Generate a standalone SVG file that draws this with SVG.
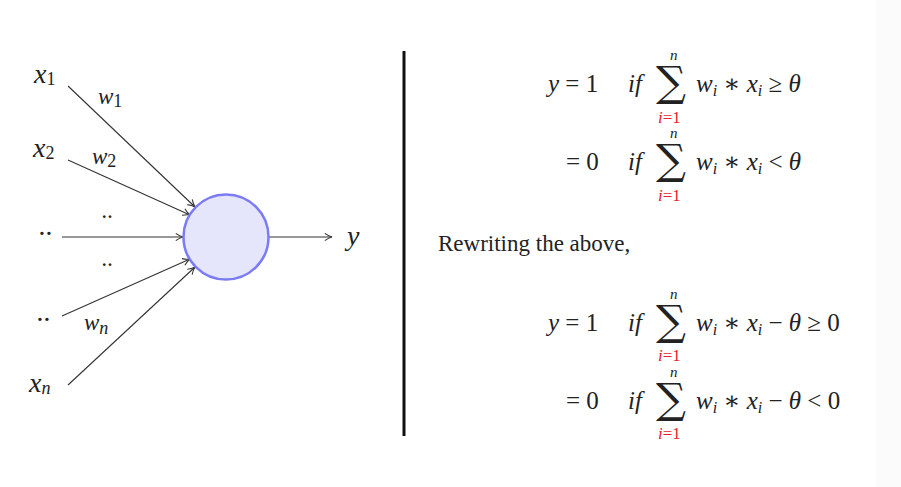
<svg xmlns="http://www.w3.org/2000/svg" width="901" height="487" viewBox="0 0 901 487">
<defs>
<style>
text{font-family:"Liberation Serif","DejaVu Serif",serif;fill:#222}
.v{font-style:italic;font-size:28px}
.w{font-style:italic;font-size:23px}
.s{font-size:18px}
.eq{font-size:25px}
.i{font-style:italic}
.sig{font-size:42px;font-family:"DejaVu Serif",serif}
.lim{font-size:15px}
.red{fill:#e8202a;font-size:17px}
.c line{stroke:#333;stroke-width:1.1;marker-end:url(#a)}
</style>
<marker id="a" viewBox="0 0 10 10" refX="9" refY="5" markerWidth="9" markerHeight="9" markerUnits="userSpaceOnUse" orient="auto"><path d="M1,1 Q5,4 9,5 Q5,6 1,9" fill="none" stroke="#333" stroke-width="1.2"/></marker>
</defs>
<rect width="901" height="487" fill="#fff"/>
<rect x="876" y="0" width="25" height="487" fill="#fbfbfb"/>
<g class="c" id="connectors">
<line x1="68" y1="86" x2="195" y2="207"/>
<line x1="68" y1="160" x2="190" y2="215"/>
<line x1="62" y1="237" x2="183" y2="237"/>
<line x1="62" y1="316" x2="190" y2="259"/>
<line x1="68" y1="385" x2="195" y2="267"/>
<line x1="268" y1="237" x2="332" y2="237"/>
</g>
<g id="neuron"><circle cx="226" cy="237" r="42.5" fill="#e5e5fb" stroke="#7b7bf5" stroke-width="2.5"/></g>
<g id="inputs">
<text class="v" x="34" y="83">x<tspan class="s" font-style="normal" dy="2">1</tspan></text>
<text class="v" x="33" y="157">x<tspan class="s" font-style="normal" dy="2">2</tspan></text>
<text class="v" x="38" y="243">··</text>
<text class="v" x="36" y="329">··</text>
<text class="v" x="29" y="392">x<tspan class="s" dy="2">n</tspan></text>
<text class="w" x="98" y="104">w<tspan class="s" font-style="normal" dy="3">1</tspan></text>
<text class="w" x="92" y="164">w<tspan class="s" font-style="normal" dy="3">2</tspan></text>
<text class="w" x="101" y="224">··</text>
<text class="w" x="101" y="272">··</text>
<text class="w" x="84" y="330">w<tspan class="s" dy="4">n</tspan></text>
<text class="v" x="347" y="245">y</text>
</g>
<g id="divider"><line x1="404" y1="51" x2="404" y2="436" stroke="#111" stroke-width="3"/></g>
<g id="equations" class="eq">
<text x="548" y="92"><tspan class="i">y</tspan> = 1</text>
<text x="628" y="92" class="i">if</text>
<text x="656" y="96" class="sig">∑</text>
<text x="670" y="60" class="lim i">n</text>
<text x="658" y="123" class="red"><tspan class="i">i</tspan>=1</text>
<text x="696" y="92"><tspan class="i">w<tspan font-size="16" dy="4">i</tspan></tspan><tspan dy="-4"> ∗ </tspan><tspan class="i">x<tspan font-size="16" dy="4">i</tspan></tspan><tspan dy="-4"> ≥ </tspan><tspan class="i">θ</tspan></text>

<text x="566" y="170">= 0</text>
<text x="628" y="170" class="i">if</text>
<text x="656" y="174" class="sig">∑</text>
<text x="670" y="138" class="lim i">n</text>
<text x="658" y="201" class="red"><tspan class="i">i</tspan>=1</text>
<text x="696" y="170"><tspan class="i">w<tspan font-size="16" dy="4">i</tspan></tspan><tspan dy="-4"> ∗ </tspan><tspan class="i">x<tspan font-size="16" dy="4">i</tspan></tspan><tspan dy="-4"> &lt; </tspan><tspan class="i">θ</tspan></text>

<text x="438" y="251" font-size="23">Rewriting the above,</text>

<text x="548" y="331"><tspan class="i">y</tspan> = 1</text>
<text x="628" y="331" class="i">if</text>
<text x="656" y="335" class="sig">∑</text>
<text x="670" y="299" class="lim i">n</text>
<text x="658" y="361" class="red"><tspan class="i">i</tspan>=1</text>
<text x="696" y="331"><tspan class="i">w<tspan font-size="16" dy="4">i</tspan></tspan><tspan dy="-4"> ∗ </tspan><tspan class="i">x<tspan font-size="16" dy="4">i</tspan></tspan><tspan dy="-4"> − </tspan><tspan class="i">θ</tspan> ≥ 0</text>

<text x="566" y="409">= 0</text>
<text x="628" y="409" class="i">if</text>
<text x="656" y="413" class="sig">∑</text>
<text x="670" y="377" class="lim i">n</text>
<text x="658" y="439" class="red"><tspan class="i">i</tspan>=1</text>
<text x="696" y="409"><tspan class="i">w<tspan font-size="16" dy="4">i</tspan></tspan><tspan dy="-4"> ∗ </tspan><tspan class="i">x<tspan font-size="16" dy="4">i</tspan></tspan><tspan dy="-4"> − </tspan><tspan class="i">θ</tspan> &lt; 0</text>
</g>
</svg>
